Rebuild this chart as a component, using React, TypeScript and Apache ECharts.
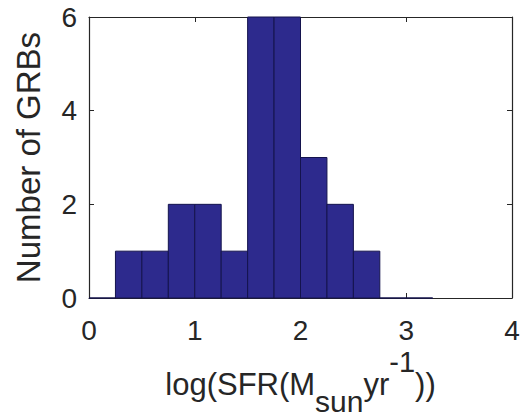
import React, { useEffect, useRef } from "react";
import * as echarts from "echarts";

// Histogram bins (left edge, right edge) and counts
const binStarts = [0, 0.25, 0.5, 0.75, 1.0, 1.25, 1.5, 1.75, 2.0, 2.25, 2.5, 2.75, 3.0];
const binEnds = [0.25, 0.5, 0.75, 1.0, 1.25, 1.5, 1.75, 2.0, 2.25, 2.5, 2.75, 3.0, 3.25];
const counts = [0, 1, 1, 2, 2, 1, 6, 6, 3, 2, 1, 0, 0];

const xTicks = [0, 1, 2, 3, 4];
const yTicks = [0, 2, 4, 6];

// x-axis title pieces: [text, role]
const xTitleParts: [string, "main" | "sub" | "sup"][] = [
  ["log(SFR(M", "main"],
  ["sun", "sub"],
  ["yr", "main"],
  ["-1", "sup"],
  ["))", "main"],
];
const yTitle = "Number of GRBs";

const FONT = "'Liberation Sans', Arial, Helvetica, sans-serif";
const TEXT = "#262626";
const BAR = "#2d2a8d";
const EDGE = "#14134d";

const GRID = { left: 89, right: 10, top: 17, bottom: 119 };
const W = 522;
const H = 417;

export default function App() {
  const ref = useRef<HTMLDivElement>(null);
  useEffect(() => {
    if (!ref.current) return;
    const chart = echarts.init(ref.current, undefined, { renderer: "svg" });
    const data = binStarts.map((s, i) => [s, binEnds[i], counts[i]]);
    const axisCommon = {
      axisLine: { show: true, onZero: false, lineStyle: { color: TEXT, width: 1.2 } },
      axisTick: { show: true, inside: true, length: 5, lineStyle: { color: TEXT, width: 1 } },
      splitLine: { show: false },
    };

    // Lay out the x title with sub/superscripts
    const sizes = { main: 31, sub: 30, sup: 29 };
    const offsets = { main: 0, sub: 17, sup: -23 };
    const ctx = document.createElement("canvas").getContext("2d")!;
    const widths = xTitleParts.map(([t, role]) => {
      ctx.font = `${sizes[role]}px ${FONT}`;
      return ctx.measureText(t).width;
    });
    const total = widths.reduce((a, b) => a + b, 0);
    const centerX = GRID.left + (W - GRID.left - GRID.right) / 2;
    const baseline = 395;
    let cx = centerX - total / 2;
    const titleEls = xTitleParts.map(([t, role], i) => {
      const size = sizes[role];
      const el = {
        type: "text",
        x: cx,
        y: baseline + offsets[role] - 0.35 * size,
        silent: true,
        style: {
          text: t,
          fontSize: size,
          fontFamily: FONT,
          fill: TEXT,
          align: "left",
          verticalAlign: "middle",
        },
      };
      cx += widths[i];
      return el;
    });

    chart.setOption({
      animation: false,
      backgroundColor: "#ffffff",
      textStyle: { fontFamily: FONT },
      grid: { ...GRID, containLabel: false, outerBoundsMode: "none" },
      xAxis: [
        {
          type: "value",
          min: xTicks[0],
          max: xTicks[xTicks.length - 1],
          interval: 1,
          position: "bottom",
          ...axisCommon,
          axisLabel: { color: TEXT, fontSize: 28, margin: 18, fontFamily: FONT },
        },
        {
          type: "value",
          min: xTicks[0],
          max: xTicks[xTicks.length - 1],
          interval: 1,
          position: "top",
          ...axisCommon,
          axisLabel: { show: false },
        },
      ],
      yAxis: [
        {
          type: "value",
          min: yTicks[0],
          max: yTicks[yTicks.length - 1],
          interval: 2,
          position: "left",
          ...axisCommon,
          axisLabel: { color: TEXT, fontSize: 28, margin: 12, fontFamily: FONT },
          name: yTitle,
          nameLocation: "middle",
          nameRotate: 90,
          nameGap: 44,
          nameTextStyle: { color: TEXT, fontSize: 33, fontFamily: FONT },
        },
        {
          type: "value",
          min: yTicks[0],
          max: yTicks[yTicks.length - 1],
          interval: 2,
          position: "right",
          ...axisCommon,
          axisLabel: { show: false },
        },
      ],
      graphic: titleEls,
      series: [
        {
          type: "custom",
          xAxisIndex: 0,
          yAxisIndex: 0,
          z: 5,
          data,
          encode: { x: [0, 1], y: 2 },
          renderItem: (params: any, api: any) => {
            const p0 = api.coord([api.value(0), 0]);
            const p1 = api.coord([api.value(1), api.value(2)]);
            return {
              type: "rect",
              shape: { x: p0[0], y: p1[1], width: p1[0] - p0[0], height: p0[1] - p1[1] },
              style: { fill: BAR, stroke: EDGE, lineWidth: 1 },
            };
          },
        },
      ],
    });
    return () => chart.dispose();
  }, []);
  return (
    <div
      ref={ref}
      style={{ position: "fixed", left: 0, top: 0, width: W, height: H, background: "#fff" }}
    />
  );
}
